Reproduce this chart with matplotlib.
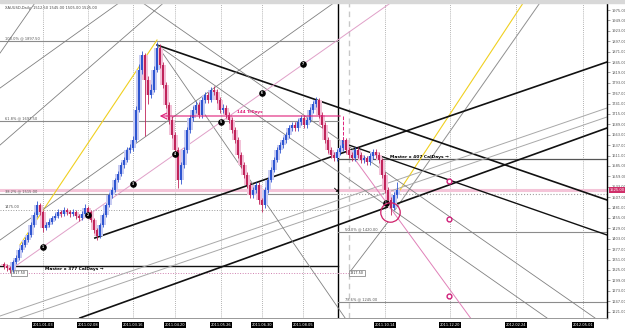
import numpy as np
import matplotlib
matplotlib.use('Agg')
import matplotlib.pyplot as plt

# daily closes (bar index 0..131), opens follow the previous close
closes = [1335, 1330, 1325, 1345, 1355, 1375, 1387.5, 1400, 1412.5, 1437.5,
          1462.5, 1487.5, 1470, 1430, 1437.5, 1445, 1455, 1460, 1470, 1465,
          1475, 1470, 1465, 1470, 1460, 1455, 1465, 1480, 1470, 1450,
          1425, 1410, 1437.5, 1462.5, 1487.5, 1512.5, 1525, 1550, 1565, 1587.5,
          1600, 1625, 1630, 1650, 1725, 1825, 1862.5, 1800, 1762.5, 1775,
          1825, 1880, 1837.5, 1787.5, 1737.5, 1700, 1662.5, 1625, 1550, 1587.5,
          1625, 1675, 1705, 1725, 1737.5, 1712.5, 1750, 1762.5, 1750, 1775,
          1770, 1750, 1725, 1730, 1712.5, 1700, 1675, 1650, 1612.5, 1587.5,
          1562.5, 1537.5, 1512.5, 1525, 1537.5, 1500, 1487.5, 1525, 1550, 1575,
          1600, 1625, 1637.5, 1650, 1662.5, 1680, 1687.5, 1680, 1695, 1705,
          1687.5, 1700, 1725, 1740, 1750, 1712.5, 1687.5, 1650, 1625, 1612.5,
          1605, 1620, 1630, 1650, 1625, 1612.5, 1605, 1625, 1612.5, 1600,
          1605, 1595, 1610, 1620, 1612.5, 1600, 1562.5, 1525, 1500, 1480,
          1512.5, 1525]
highs = [1345, 1340, 1335, 1350, 1362, 1380, 1395, 1408, 1420, 1445,
         1470, 1497, 1492, 1475, 1445, 1452, 1460, 1467, 1477, 1475,
         1482, 1480, 1475, 1477, 1475, 1465, 1472, 1490, 1485, 1475,
         1455, 1430, 1442, 1468, 1492, 1518, 1532, 1555, 1572, 1595,
         1608, 1632, 1640, 1660, 1735, 1840, 1872, 1868, 1810, 1790,
         1835, 1895, 1890, 1845, 1795, 1745, 1710, 1670, 1632, 1595,
         1632, 1682, 1712, 1735, 1748, 1745, 1758, 1770, 1770, 1782,
         1785, 1778, 1757, 1740, 1738, 1720, 1707, 1682, 1657, 1620,
         1595, 1570, 1545, 1532, 1545, 1545, 1505, 1532, 1557, 1582,
         1607, 1632, 1645, 1658, 1670, 1688, 1695, 1695, 1702, 1712,
         1712, 1707, 1732, 1748, 1757, 1755, 1720, 1695, 1657, 1632,
         1620, 1627, 1637, 1657, 1655, 1632, 1620, 1632, 1632, 1620,
         1612, 1610, 1617, 1627, 1627, 1620, 1605, 1570, 1532, 1507,
         1520, 1545]
lows = [1328, 1322, 1318, 1320, 1340, 1350, 1370, 1382, 1395, 1408,
        1432, 1458, 1462, 1420, 1425, 1432, 1440, 1450, 1455, 1458,
        1460, 1463, 1458, 1460, 1453, 1448, 1450, 1460, 1462, 1445,
        1418, 1400, 1405, 1432, 1458, 1482, 1505, 1520, 1545, 1560,
        1580, 1595, 1618, 1622, 1645, 1720, 1815, 1660, 1740, 1755,
        1770, 1820, 1830, 1780, 1730, 1690, 1655, 1615, 1530, 1540,
        1580, 1618, 1668, 1698, 1718, 1705, 1705, 1742, 1742, 1745,
        1762, 1742, 1718, 1718, 1705, 1692, 1668, 1642, 1605, 1580,
        1555, 1530, 1505, 1505, 1518, 1490, 1470, 1480, 1518, 1545,
        1570, 1595, 1618, 1630, 1643, 1655, 1672, 1672, 1673, 1688,
        1680, 1680, 1695, 1718, 1733, 1705, 1680, 1642, 1618, 1605,
        1598, 1598, 1613, 1623, 1618, 1605, 1598, 1598, 1605, 1593,
        1593, 1588, 1588, 1603, 1605, 1593, 1555, 1518, 1493, 1462,
        1475, 1505]
first_open = 1340

# horizontal levels: (price, x0, x1, colour, style, width)
levels = [(1897.5, -1.3, 111.3, '#8c8c8c', '-', 0.8),
          (1697.5, -1.3, 111.3, '#8c8c8c', '-', 0.8),
          (1515.0, -1.3, 111.3, '#8c8c8c', '-', 0.8),
          (1515.0, 111.3, 201, '#a0a0a0', ':', 0.8),
          (1475.0, -1.3, 111.3, '#9a9a9a', ':', 0.7),
          (1335.0, -1.3, 111.3, '#111111', '-', 1.0),
          (1317.5, -1.3, 115.3, '#d080b0', ':', 0.7),
          (1602.5, 111.3, 201, '#555555', '-', 0.9),
          (1420.0, 111.3, 201, '#8c8c8c', '-', 0.8),
          (1245.0, 111.3, 201, '#8c8c8c', '-', 0.8)]
level_text = [(0.3, 1899, '100.0% @ 1897.50'),
              (0.3, 1699, '61.8% @ 1697.50'),
              (0.3, 1517, '38.2% @ 1515.00'),
              (0.3, 1477, '1475.00'),
              (113.7, 1422, '50.0% @ 1420.00'),
              (113.7, 1247, '78.6% @ 1245.00')]

# trend lines: (x0, y0, x1, y1, colour, width)
trend_lines = [(5.3, 1387.5, 51, 1900, '#f0d020', 0.8),
               (128.7, 1487.5, 173.7, 2000, '#f0d020', 0.8),
               (130.3, 1475, 179.3, 2000, '#909090', 0.7),
               (51, 1887.5, 201, 1500, '#111111', 1.2),
               (30.3, 1405, 201, 1845, '#111111', 1.2),
               (25.3, 1205, 201, 1680, '#111111', 1.2),
               (113, 1642.5, 201, 1412.5, '#111111', 1.0),
               (-1.3, 1210, 201, 1730, '#a8a8a8', 0.7),
               (5.3, 1205, 201, 1707.5, '#a8a8a8', 0.7),
               (51, 1887.5, 181, 1205, '#808080', 0.6),
               (51, 1887.5, 113.7, 1205, '#808080', 0.6),
               (46.3, 1992.5, 197, 1205, '#808080', 0.6),
               (-1.3, 1867.5, 11, 2000, '#808080', 0.6),
               (-1.3, 1780, 39.7, 2000, '#808080', 0.6),
               (-1.3, 1637.5, 54.3, 2000, '#808080', 0.6),
               (-1.3, 1400, 111.3, 2000, '#808080', 0.6),
               (128, 1445, 115.3, 1320, '#808080', 0.6),
               (2, 1325, 129.3, 1995, '#e0a0c8', 0.7),
               (113, 1642.5, 155.5, 1205, '#e080b8', 0.7)]

grid_x = [13, 28, 43, 57, 72.3, 86, 99.7, 127, 148.7, 170.7, 193]
marker_x = [13, 28, 43, 57, 72.3, 86, 99.7]
marker_lbl = ['1', '2', '3', '4', '5', '6', '7']
pink_marks_y = [1547.5, 1452.5, 1260]
date_lbl = ['2011.01.03', '2011.02.08', '2011.03.16', '2011.04.20', '2011.05.26',
            '2011.06.30', '2011.08.05', '2011.10.14', '2011.12.20', '2012.02.24',
            '2012.05.01']
right_ticks = list(np.arange(1975, 1205, -26.0))
last_price = 1525.0

fig = plt.figure(figsize=(6.25, 3.3), dpi=100)
ax = fig.add_axes([0, 0.0364, 0.9712, 0.9545])
ax.set_xlim(-1.33, 201)
ax.set_ylim(1205, 1992.5)

# grid / vertical markers
for gx in grid_x:
    ax.axvline(gx, color='#9a9a9a', lw=0.6, ls=(0, (1, 1.5)), zorder=1)
ax.axvline(111.33, color='black', lw=1.0, zorder=2)
ax.axvline(115, color='#c8c8c8', lw=1.0, ls=(0, (4, 3)), zorder=1)

# horizontal levels
ax.plot([-1.33, 201], [last_price, last_price], color='#f4c4d8', lw=2.2, zorder=1)
for p, x0, x1, c, ls, w in levels:
    ax.plot([x0, x1], [p, p], color=c, ls=ls, lw=w, zorder=2)
for x, y, t in level_text:
    ax.text(x, y, t, fontsize=2.6, color='#555555', va='bottom', zorder=5)

for x0, y0, x1, y1, c, w in trend_lines:
    ax.plot([x0, x1], [y0, y1], color=c, lw=w, zorder=2)

# candles
opens = [first_open] + closes[:-1]
xs = np.arange(len(closes))
o = np.array(opens)
c = np.array(closes)
up = c >= o
col = np.where(up, '#2e55d0', '#c0245a')
light = np.where(up, '#c8ccf2', '#f2c2d8')
ax.bar(xs, c - o, bottom=o, width=1.9, color=light, zorder=3)
ax.vlines(xs, lows, highs, colors=col, lw=0.6, zorder=4)
body = np.where(np.abs(c - o) < 2, 2, c - o)
ax.bar(xs, body, bottom=o, width=0.55, color=col, zorder=4)

# pink count line markers
pink_line = trend_lines[17]
my = np.interp(marker_x, [pink_line[0], pink_line[2]], [pink_line[1], pink_line[3]])
ax.scatter(marker_x, my, s=14, color='black', zorder=6)
for mx, yy, t in zip(marker_x, my, marker_lbl):
    ax.text(mx, yy, t, fontsize=2.2, color='white', ha='center', va='center',
            fontweight='bold', zorder=7)
ax.scatter([127.3], [1492.5], s=14, color='black', zorder=6)
ax.text(127.3, 1492.5, '5', fontsize=2.2, color='white', ha='center', va='center', zorder=7)
ax.scatter([148.3] * 3, pink_marks_y, s=12, facecolor='white', edgecolor='#d0207a',
           lw=1.0, zorder=6)
ax.plot([128.67], [1470], marker='o', ms=14, mfc='none', mec='#d0206a', mew=0.9, zorder=6)

# 144 trading days span
ax.annotate('', xy=(51, 1710), xytext=(113, 1710),
            arrowprops=dict(arrowstyle='->', color='#e0207a', lw=0.8), zorder=5)
ax.plot([113, 113], [1710, 1642.5], color='#e0207a', lw=0.7, ls='--', zorder=5)
ax.text(82, 1714, '144 TrDays', fontsize=3.0, color='#e0207a', ha='center', va='bottom',
        fontweight='bold')

ax.text(13.7, 1327.5, 'Master x 377 CalDays \u2192', fontsize=3.2, fontweight='bold',
        va='center')
ax.text(128.7, 1607.5, 'Master x 407 CalDays \u2192', fontsize=3.2, fontweight='bold',
        va='center')
ax.text(110.3, 1525, '\u2198', fontsize=5, va='center', ha='center', fontweight='bold')

for x, y, t in [(2.7, 1318, '1317.50'), (115.3, 1318, '1317.50')]:
    ax.text(x, y, t, fontsize=2.4, color='#333333', va='center',
            bbox=dict(facecolor='white', edgecolor='#777777', pad=0.6, lw=0.5))

ax.text(0.3, 1986, 'XAUUSD,Daily  1512.50 1545.00 1505.00 1525.00', fontsize=2.6,
        color='#444444', va='top')

# axes dressing
for s in ['left', 'top']:
    ax.spines[s].set_visible(False)
ax.spines['right'].set_color('black')
ax.spines['right'].set_linewidth(1.0)
ax.spines['bottom'].set_color('#888888')
ax.spines['bottom'].set_linewidth(0.6)
ax.yaxis.tick_right()
ax.set_yticks(right_ticks)
ax.set_yticklabels([f'{t:.2f}' for t in right_ticks])
ax.tick_params(axis='y', labelsize=2.6, colors='#555555', length=2, width=0.4, pad=1)
ax.text(202, last_price, f'{last_price:.2f}', fontsize=2.6, color='white', va='center',
        bbox=dict(facecolor='#d0306a', edgecolor='none', pad=0.6), clip_on=False)
ax.set_xticks(grid_x)
ax.set_xticklabels(date_lbl)
ax.tick_params(axis='x', labelsize=2.6, colors='white', length=2, width=0.4, pad=1.5)
for lbl in ax.get_xticklabels():
    lbl.set_bbox(dict(facecolor='black', edgecolor='none', pad=0.6))

fig.patches.append(plt.Rectangle((0, 0.991), 1, 0.009, transform=fig.transFigure,
                                 color='#d8d8d8'))
fig.savefig('out.png', dpi=100)
